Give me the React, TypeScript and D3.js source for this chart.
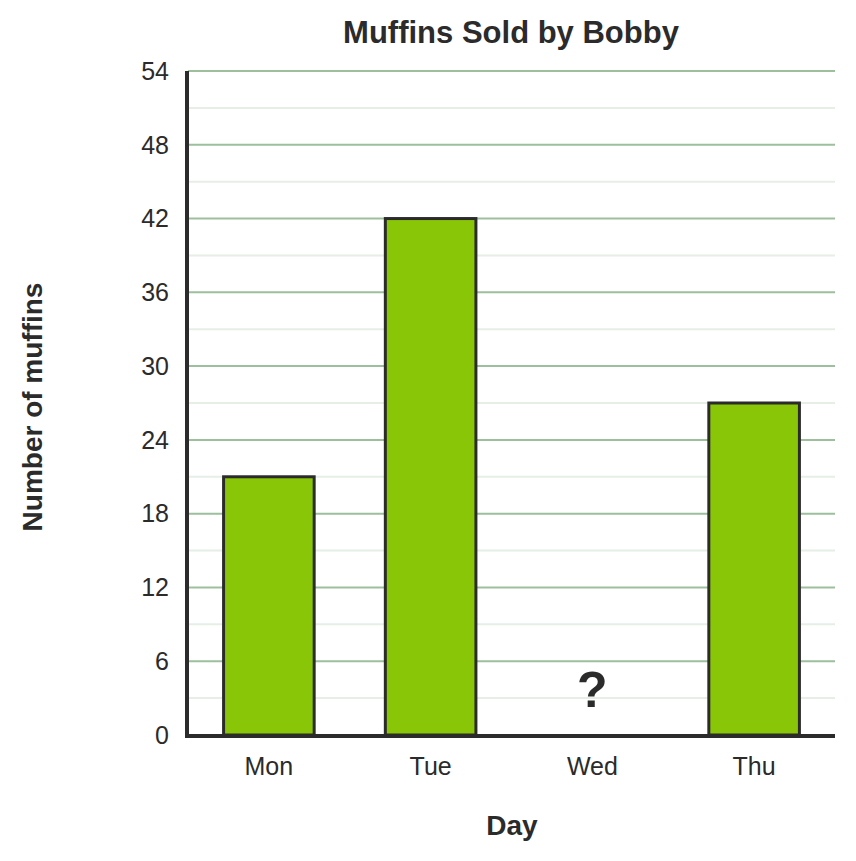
import * as d3 from 'd3'

const days = ['Mon', 'Tue', 'Wed', 'Thu']
const muffins: (number | null)[] = [21, 42, null, 27]
const yMax = 54
const majorTicks = [0, 6, 12, 18, 24, 30, 36, 42, 48, 54]
const minorTicks = [3, 9, 15, 21, 27, 33, 39, 45, 51]

export default function App() {
  const width = 856
  const height = 861
  const marginLeft = 188
  const marginRight = 21
  const marginTop = 71
  const marginBottom = 126

  const x = d3.scaleBand<string>()
    .domain(days)
    .range([marginLeft, width - marginRight])
    .paddingInner(0.44)
    .paddingOuter(0.22)
  const y = d3.scaleLinear([0, yMax], [height - marginBottom, marginTop])

  const font = 'Liberation Sans, Arial, sans-serif'
  const dark = '#2b2b2b'

  return (
    <svg width={width} height={height} style={{position: 'absolute', left: 0, top: 0, fontFamily: font}}>
      <rect width={width} height={height} fill="#fff" />
      {minorTicks.map(t => (
        <line key={'m' + t} x1={marginLeft} x2={width - marginRight} y1={y(t)} y2={y(t)}
              stroke="#e6eee6" strokeWidth={2} />
      ))}
      {majorTicks.filter(t => t > 0).map(t => (
        <line key={'g' + t} x1={marginLeft} x2={width - marginRight} y1={y(t)} y2={y(t)}
              stroke="#9dbf9d" strokeWidth={2} />
      ))}
      {majorTicks.map(t => (
        <text key={'t' + t} x={marginLeft - 19} y={y(t)} dy="0.35em" textAnchor="end"
              fontSize={25} fill={dark}>{t}</text>
      ))}
      {days.map((d, i) => {
        const v = muffins[i]
        if (v == null) return null
        return (
          <rect key={d} x={x(d)} y={y(v)} width={x.bandwidth()} height={y(0) - y(v)}
                fill="#8ac608" stroke={dark} strokeWidth={3} />
        )
      })}
      {days.map((d, i) => muffins[i] == null ? (
        <text key={'q' + d} x={(x(d) ?? 0) + x.bandwidth() / 2} y={y(0) - 28} textAnchor="middle"
              fontSize={50} fontWeight="bold" fill={dark}>?</text>
      ) : null)}
      <line x1={marginLeft - 1} x2={marginLeft - 1} y1={marginTop} y2={y(0) + 2} stroke={dark} strokeWidth={4} />
      <line x1={marginLeft - 3} x2={width - marginRight} y1={y(0) + 1} y2={y(0) + 1} stroke={dark} strokeWidth={4} />
      {days.map(d => (
        <text key={'x' + d} x={(x(d) ?? 0) + x.bandwidth() / 2} y={y(0) + 40} textAnchor="middle"
              fontSize={25} fill={dark}>{d}</text>
      ))}
      <text x={511} y={43} textAnchor="middle" fontSize={31} fontWeight="bold" fill={dark}>Muffins Sold by Bobby</text>
      <text x={512} y={835} textAnchor="middle" fontSize={28} fontWeight="bold" fill={dark}>Day</text>
      <text transform={`translate(42,407) rotate(-90)`} textAnchor="middle"
            fontSize={28} fontWeight="bold" fill={dark}>Number of muffins</text>
    </svg>
  )
}
